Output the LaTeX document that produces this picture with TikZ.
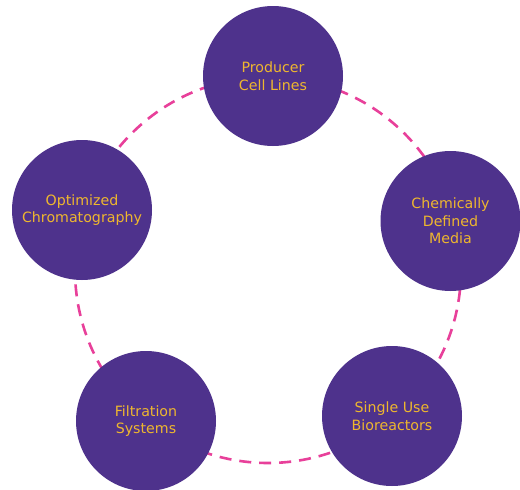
\documentclass[tikz,border=0pt]{standalone}
\usepackage{fontspec}
\setmainfont{DejaVu Sans}
\definecolor{cpurple}{HTML}{4E328C}
\definecolor{cgold}{HTML}{EFB72E}
\definecolor{cpink}{HTML}{E8409A}
\begin{document}
\begin{tikzpicture}[x=1pt,y=-1pt,
  stage/.style={circle,fill=cpurple,minimum size=140pt,inner sep=0pt,text=cgold,
    align=center,font=\fontsize{14.2}{17.5}\selectfont},
  ring/.style={draw=cpink,line width=2.6pt,dash pattern=on 12pt off 8pt}]
\useasboundingbox (0,0) rectangle (520,490);
\fill[white] (0,0) rectangle (520,490);
\draw[ring] (268,270) circle[radius=193];
\node[stage] (pcl) at (273,76) {Producer\\Cell Lines};
\node[stage] (cdm) at (450.5,221) {Chemically\\Defined\\Media};
\node[stage] (sub) at (392,416) {Single Use\\Bioreactors};
\node[stage] (fs) at (146,421) {Filtration\\Systems};
\node[stage] (oc) at (82,210) {Optimized\\Chromatography};
\end{tikzpicture}
\end{document}
